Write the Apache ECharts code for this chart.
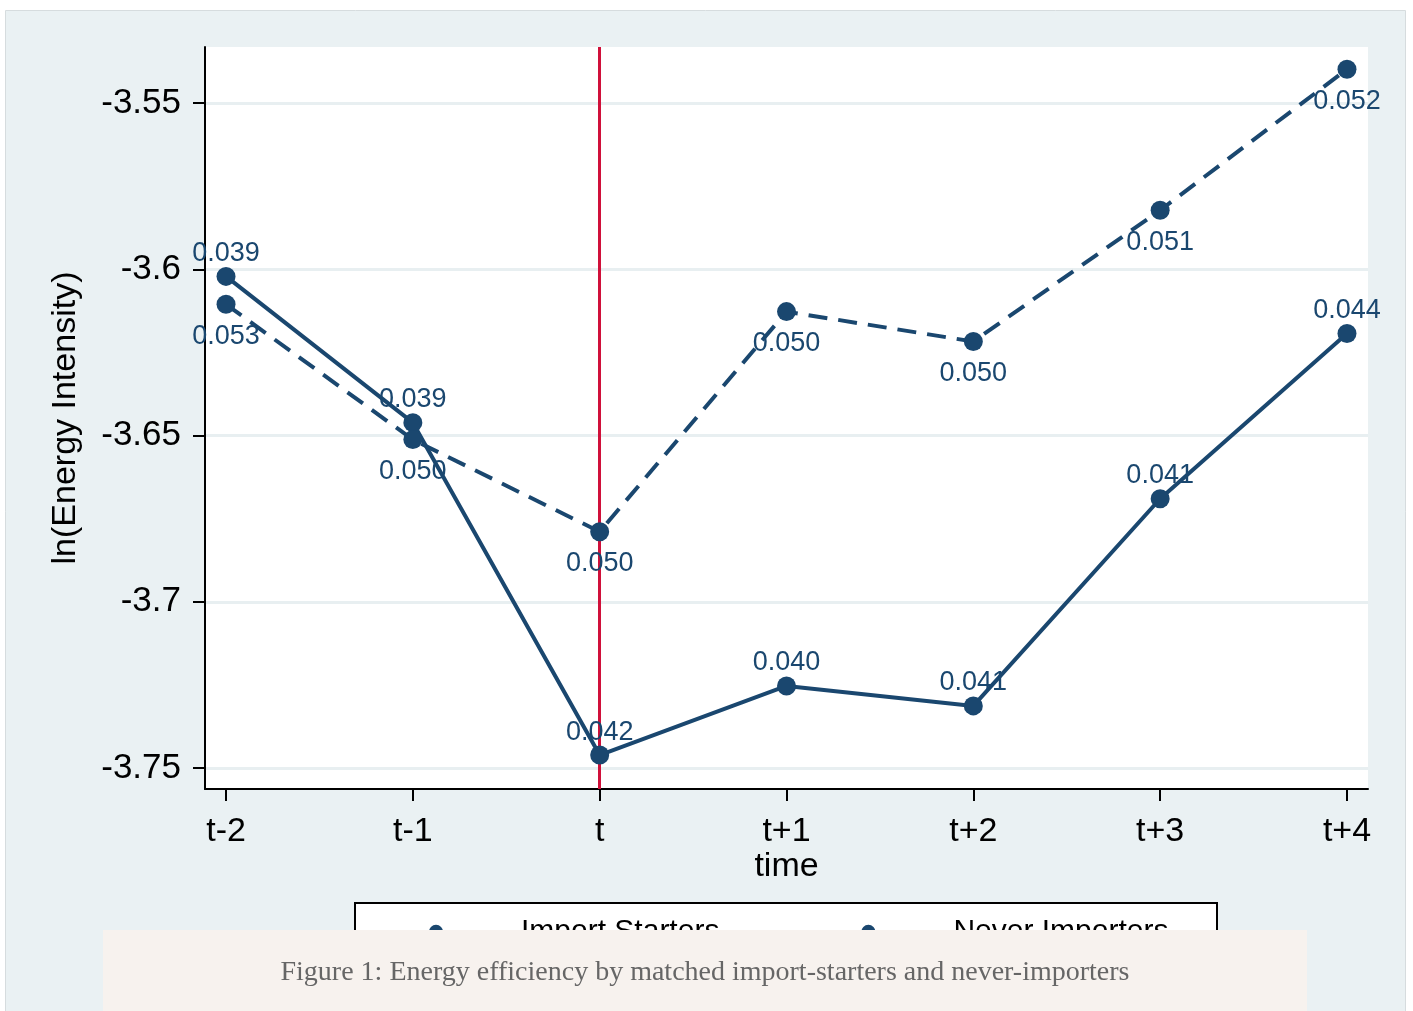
<!DOCTYPE html>
<html>
<head>
<meta charset="utf-8">
<title>Energy efficiency by matched import-starters and never-importers</title>
<script src="https://cdn.jsdelivr.net/npm/echarts@6/dist/echarts.min.js"></script>
<style>
  html, body { margin: 0; padding: 0; background: #ffffff; }
  #chart { width: 1413px; height: 1011px; }
</style>
</head>
<body>
<div id="chart"></div>
<script>
// Periods relative to the first import year
const tickLabels = ['t-2', 't-1', 't', 't+1', 't+2', 't+3', 't+4'];
// Mean ln(energy intensity) by group
const importStarters = [-3.6021, -3.6461, -3.7461, -3.7253, -3.7313, -3.6690, -3.6193];
const neverImporters = [-3.6105, -3.6512, -3.6789, -3.6127, -3.6217, -3.5822, -3.5398];
// Standard errors printed next to each point
const startersSE = ['0.039', '0.039', '0.042', '0.040', '0.041', '0.041', '0.044'];
const neverSE = ['0.053', '0.050', '0.050', '0.050', '0.050', '0.051', '0.052'];
// Y axis ticks
const yTicks = [-3.75, -3.7, -3.65, -3.6, -3.55];
const xTicks = tickLabels.map((_, i) => i);
const eventPeriod = 2; // period t

const navy = '#1a476f';
const sans = 'Liberation Sans, Arial, sans-serif';

const chart = echarts.init(document.getElementById('chart'), null, { renderer: 'canvas' });

chart.setOption({
  backgroundColor: '#ffffff',
  animation: false,
  graphic: [
    { type: 'rect', z: -10, silent: true,
      shape: { x: 5.5, y: 10.5, width: 1400, height: 1010 },
      style: { fill: '#eaf1f3', stroke: '#d6dcde', lineWidth: 1 } },
    { type: 'rect', z: 1, silent: true,
      shape: { x: 355, y: 903, width: 862, height: 100 },
      style: { fill: '#ffffff', stroke: '#000000', lineWidth: 2 } },
    { type: 'rect', z: 20, silent: true,
      shape: { x: 103, y: 930, width: 1204, height: 90 },
      style: { fill: '#f7f2ee' } },
    { type: 'text', z: 21, silent: true, x: 705, y: 973,
      style: { text: 'Figure 1: Energy efficiency by matched import-starters and never-importers',
               fill: '#666666', font: '28px "Liberation Serif", "Times New Roman", serif',
               align: 'center', verticalAlign: 'middle' } }
  ],
  grid: {
    left: 205, top: 47, width: 1163, height: 742,
    show: true, backgroundColor: '#ffffff', borderWidth: 0
  },
  legend: {
    left: 390, top: 917, z: 5, padding: 0,
    itemWidth: 90, itemHeight: 18, itemGap: 103,
    textStyle: { fontFamily: sans, fontSize: 30, color: '#000', padding: [0, 0, 0, 35] },
    data: ['Import Starters', 'Never Importers']
  },
  xAxis: {
    type: 'value', min: -0.1125, max: 6.1125,
    name: 'time', nameLocation: 'middle', nameGap: 61, nameMoveOverlap: false,
    nameTextStyle: { fontFamily: sans, fontSize: 34, color: '#000' },
    axisLine: { show: true, onZero: false, lineStyle: { color: '#000', width: 2 } },
    axisTick: { show: true, length: 12, customValues: xTicks, lineStyle: { color: '#000', width: 2 } },
    axisLabel: { customValues: xTicks, margin: 26, fontFamily: sans, fontSize: 34, color: '#000',
                 formatter: v => tickLabels[Math.round(v)] },
    splitLine: { show: false }
  },
  yAxis: {
    type: 'value', min: -3.7563, max: -3.5331,
    name: 'ln(Energy Intensity)', nameLocation: 'middle', nameGap: 122,
    nameTextStyle: { fontFamily: sans, fontSize: 34, color: '#000' },
    axisLine: { show: true, onZero: false, lineStyle: { color: '#000', width: 2 } },
    axisTick: { show: true, length: 12, customValues: yTicks, lineStyle: { color: '#000', width: 2 } },
    axisLabel: { customValues: yTicks, margin: 24, fontFamily: sans, fontSize: 35, color: '#000',
                 formatter: v => String(v) },
    splitLine: { show: true, lineStyle: { color: '#e8eff1', width: 3 } }
  },
  series: [
    {
      name: 'Import Starters', type: 'line', z: 4,
      data: importStarters.map((v, i) => [i, v]),
      symbol: 'circle', symbolSize: 19,
      itemStyle: { color: navy },
      lineStyle: { color: navy, width: 4, type: 'solid' },
      label: { show: true, position: 'top', distance: 0, fontFamily: sans, fontSize: 27, color: navy,
               formatter: p => startersSE[p.dataIndex] },
      markLine: {
        silent: true, symbol: 'none', z: 3,
        label: { show: false },
        lineStyle: { color: '#d0103a', width: 3, type: 'solid' },
        data: [{ xAxis: eventPeriod }]
      }
    },
    {
      name: 'Never Importers', type: 'line', z: 4,
      data: neverImporters.map((v, i) => [i, v]),
      symbol: 'circle', symbolSize: 19,
      itemStyle: { color: navy },
      lineStyle: { color: navy, width: 4, type: [19, 11] },
      label: { show: true, position: 'bottom', distance: 9, fontFamily: sans, fontSize: 27, color: navy,
               formatter: p => neverSE[p.dataIndex] }
    }
  ]
});
</script>
</body>
</html>
